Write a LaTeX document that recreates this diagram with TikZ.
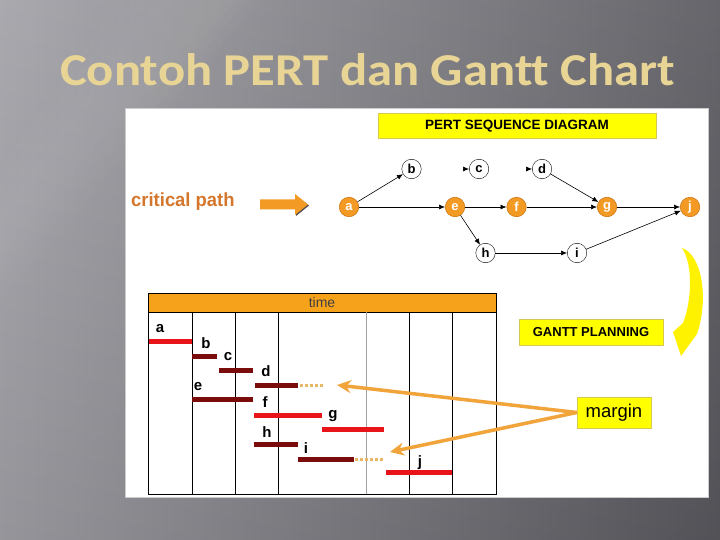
\documentclass[tikz,border=0pt]{standalone}
\usepackage{fontspec}
\setmainfont{Liberation Sans}
\newfontfamily\titlefont[RawFeature=-liga]{Carlito}
\usetikzlibrary{arrows.meta,calc}
\definecolor{bgL}{HTML}{A3A2A8}
\definecolor{bgR}{HTML}{5A595F}
\definecolor{titlecol}{HTML}{E8D595}
\definecolor{critcol}{HTML}{D4772C}
\definecolor{nodeor}{HTML}{F39A24}
\definecolor{nodeorD}{HTML}{C8700E}
\definecolor{hdror}{HTML}{F7A21B}
\definecolor{barred}{HTML}{E8141A}
\definecolor{bardark}{HTML}{7B0C0C}
\definecolor{dotcol}{HTML}{E8B868}
\definecolor{marcol}{HTML}{F0A43A}
\definecolor{ybx}{HTML}{FFFF00}
\definecolor{ybxD}{HTML}{D8C850}
\definecolor{cresc}{HTML}{FFF200}
\definecolor{gridgray}{HTML}{A0A0A0}
\tikzset{
  crit/.style={circle, draw=nodeorD, line width=0.5pt, fill=nodeor, minimum size=19.5pt, inner sep=0pt, text=white, font=\bfseries\fontsize{13}{13}\selectfont},
  plainnode/.style={circle, draw=black, line width=0.4pt, fill=white, minimum size=19.5pt, inner sep=0pt, font=\bfseries\fontsize{13}{13}\selectfont},
  pe/.style={-{Latex[length=6pt,width=5pt]}, line width=0.6pt},
  ybox/.style={fill=ybx, draw=ybxD, line width=0.6pt, inner sep=0pt},
  rbar/.style={draw=barred, line width=5pt},
  dbar/.style={draw=bardark, line width=5pt},
  dotbar/.style={draw=dotcol, line width=3pt, dash pattern=on 3pt off 2pt},
  glab/.style={inner sep=0pt, font=\bfseries\fontsize{15}{15}\selectfont},
  marr/.style={draw=marcol, line width=3.5pt, -{Stealth[length=14pt,width=13pt]}},
  vline/.style={line width=0.8pt}
}
\begin{document}
\begin{tikzpicture}[x=1pt,y=-1pt]
\useasboundingbox (0,0) rectangle (720,540);
% background
\shade[left color=bgL, right color=bgR] (0,0) rectangle (720,540);
\shade[top color=white, bottom color=black, opacity=0.08] (0,0) rectangle (720,540);
\foreach \k in {0,1,2,3} {
  \fill[white, opacity=0.02] ({120+\k*12},0) -- ({260-\k*12},0) -- (0,{300-\k*15}) -- (0,{170+\k*15}) -- cycle;
}
% white panel
\fill[white, draw=gray!40, line width=0.8pt] (125,108) rectangle (708,497);
% title
\node[anchor=base west, text=titlecol, inner sep=0pt] (title) at (60,86)
  {\resizebox{615pt}{32pt}{\titlefont\bfseries Contoh PERT dan Gantt Chart}};
% PERT header
\node[ybox, minimum width=278pt, minimum height=25pt, font=\bfseries\fontsize{13.5}{14}\selectfont] (pert) at (517,126) {PERT SEQUENCE DIAGRAM};
% critical path
\node[anchor=west, inner sep=0pt, text=critcol, font=\bfseries\fontsize{19}{20}\selectfont] (cp) at (131,202) {\scalebox{0.97}[1]{critical path}};
\fill[black!70] (296,195.5) -- (309,205.5) -- (296,216) -- cycle;
\fill[nodeor] (260,199.5) -- (295,199.5) -- (295,194) -- (308,204.5) -- (295,215) -- (295,209.5) -- (260,209.5) -- cycle;
% PERT nodes
\node[crit] (a) at (349,207) {a};
\node[plainnode] (b) at (411.5,169) {b};
\node[plainnode] (c) at (479,169) {c};
\node[plainnode] (d) at (542,169) {d};
\node[crit] (e) at (455,207) {e};
\node[crit] (f) at (516.5,207) {f};
\node[crit] (g) at (607,207) {g};
\node[crit] (j) at (690,207) {j};
\node[plainnode] (h) at (485.5,253) {h};
\node[plainnode] (i) at (577,253) {i};
\coordinate (cs) at ($(c.west)+(-6,0)$);
\coordinate (ds) at ($(d.west)+(-6,0)$);
\draw[pe] (a) -- (b);
\draw[pe] (a) -- (e);
\draw[pe] (e) -- (f);
\draw[pe] (f) -- (g);
\draw[pe] (d) -- (g);
\draw[pe] (g) -- (j);
\draw[pe] (e) -- (h);
\draw[pe] (h) -- (i);
\draw[pe] (i) -- (j);
\draw[pe] (cs) -- (c);
\draw[pe] (ds) -- (d);
% yellow crescent arrow
\fill[cresc] (682,248) .. controls (702,255) and (709,298) .. (697,334)
  -- (681,356) -- (673,332) -- (683,323)
  .. controls (692,300) and (693,264) .. (682,248) -- cycle;
% GANTT planning and margin boxes
\node[ybox, minimum width=144pt, minimum height=26pt, font=\bfseries\fontsize{13}{14}\selectfont] (gantt) at (591,332) {GANTT PLANNING};
\node[ybox, minimum width=74pt, minimum height=31pt, font=\fontsize{18.5}{20}\selectfont] (margin) at (614,412.5) {margin};
% Gantt chart frame
\fill[hdror] (148,293) rectangle (496,312);
\node[inner sep=0pt, text=black!75, font=\fontsize{14}{14}\selectfont] (time) at (322,302.5) {time};
\draw[vline] (148,293) rectangle (496,494);
\draw[vline] (148,312) -- (496,312);
\foreach \xx in {192,235,278,409,452} \draw[vline] (\xx,312) -- (\xx,494);
\draw[line width=0.8pt, draw=gridgray] (366,312) -- (366,494);
% bars
\draw[rbar] (149,341) -- (192,341);
\draw[dbar] (192,356) -- (217,356);
\draw[dbar] (219,370) -- (253,370);
\draw[dbar] (255,385) -- (298,385);
\draw[dotbar] (300,385) -- (323,385);
\draw[dbar] (192,399) -- (253,399);
\draw[rbar] (254,415) -- (322,415);
\draw[rbar] (322,429) -- (384,429);
\draw[dbar] (254,444) -- (298,444);
\draw[dbar] (298,459) -- (354,459);
\draw[dotbar] (355,459) -- (383,459);
\draw[rbar] (386,472) -- (452,472);
% bar labels
\node[glab] (la) at (160,329) {a};
\node[glab] (lb) at (206,343) {b};
\node[glab] (lc) at (228,357) {c};
\node[glab] (ld) at (266,371) {d};
\node[glab] (le) at (198,387) {e};
\node[glab] (lf) at (265,402) {f};
\node[glab] (lg) at (333,416) {g};
\node[glab] (lh) at (267,432) {h};
\node[glab] (li) at (306,448) {i};
\node[glab] (lj) at (420,463) {j};
% margin arrows
\coordinate (t1) at (337,385);
\coordinate (t2) at (390,452);
\draw[marr] (margin.west) -- (t1);
\draw[marr] (margin.west) -- (t2);
\end{tikzpicture}
\end{document}
